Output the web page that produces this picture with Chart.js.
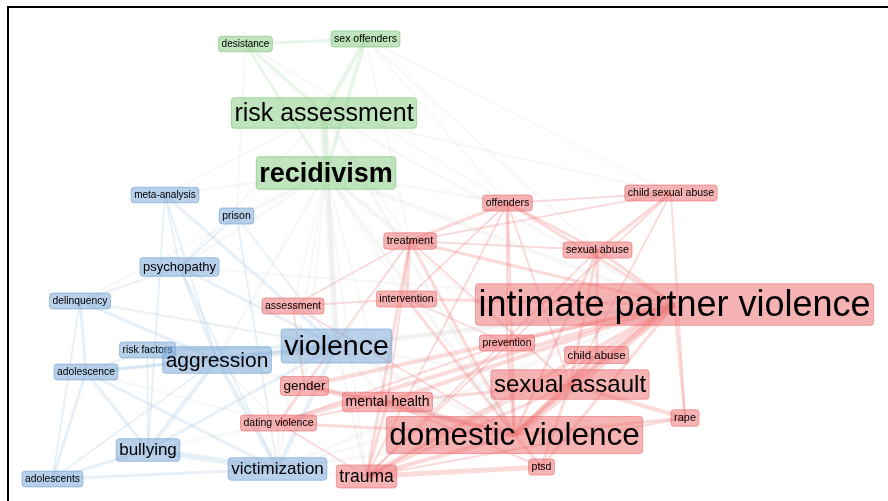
<!DOCTYPE html>
<html>
<head>
<meta charset="utf-8">
<script src="https://cdn.jsdelivr.net/npm/chart.js@4.4.1/dist/chart.umd.min.js"></script>
<style>
  html,body{margin:0;padding:0;background:#fff;overflow:hidden;}
  #wrap{position:relative;width:888px;height:501px;}
  #frame{position:absolute;left:7px;top:6px;width:900px;height:600px;border-top:2px solid #000;border-left:2px solid #000;box-sizing:border-box;pointer-events:none;z-index:2;}
  canvas{position:absolute;left:0;top:0;}
</style>
</head>
<body>
<div id="wrap">
  <canvas id="c" width="888" height="501"></canvas>
  <div id="frame"></div>
</div>
<script>
// ---- node data (map coordinates, label weight, cluster) ----
const nodeLabels = [
  'desistance','sex offenders','risk assessment','recidivism',
  'meta-analysis','prison','psychopathy','delinquency','risk factors','aggression',
  'adolescence','bullying','adolescents','victimization','violence',
  'offenders','child sexual abuse','treatment','sexual abuse','assessment','intervention',
  'intimate partner violence','prevention','child abuse','sexual assault','gender',
  'mental health','dating violence','domestic violence','rape','ptsd','trauma'
];
const nodeX = [
  245.5,365.5,324,326,
  165,236.5,179.5,80,147.5,217,
  86,148,52.5,277.5,336.5,
  507.5,671,410,597.5,293,406.5,
  674.5,507,596.5,570,304.5,
  387.5,278.5,514.5,685,541.5,366.5
];
const nodeY = [
  44,39,113,173,
  195,216,267,301,350,360,
  372,450,479,469,346,
  203,193,241,250,306,299,
  304.5,343,355,384.5,386,
  402,423,435,418,467,476.5
];
const nodeWeight = [
  10,10.5,25,27,
  10,10.5,13,10.3,10.3,21,
  10.3,17,10.3,17,28.5,
  10.5,10.5,11,10.7,10.5,10.5,
  36,10.5,11.5,24,13.5,
  14,10.5,31.5,11,10.5,17.5
];
const nodeCluster = [
  'g','g','g','g',
  'b','b','b','b','b','b',
  'b','b','b','b','b',
  'r','r','r','r','r','r',
  'r','r','r','r','r',
  'r','r','r','r','r','r'
];
// ---- links: [from, to, strength] ----
const links = [
  ['desistance','sex offenders',2],['desistance','risk assessment',2],['desistance','recidivism',2],
  ['sex offenders','risk assessment',3],['sex offenders','recidivism',3],['risk assessment','recidivism',6],
  ['recidivism','violence',5],['risk assessment','violence',3],['recidivism','psychopathy',2],
  ['recidivism','aggression',2],['recidivism','prison',2],['recidivism','meta-analysis',2],
  ['risk assessment','meta-analysis',1],['risk assessment','psychopathy',1],['recidivism','offenders',2],
  ['recidivism','treatment',2],['recidivism','intimate partner violence',3],['recidivism','domestic violence',3],
  ['recidivism','sexual assault',1],['risk assessment','intimate partner violence',2],['risk assessment','domestic violence',2],
  ['sex offenders','child sexual abuse',1],['sex offenders','sexual abuse',1],['sex offenders','offenders',1],
  ['sex offenders','treatment',1],['desistance','offenders',1],['desistance','prison',1],
  ['recidivism','delinquency',1],['recidivism','victimization',1],['recidivism','trauma',1],
  ['recidivism','mental health',1],['risk assessment','treatment',1],['risk assessment','child sexual abuse',1],
  ['recidivism','assessment',1],['recidivism','intervention',1],['recidivism','gender',1],
  ['aggression','violence',5],['aggression','bullying',3],['aggression','victimization',3],
  ['aggression','psychopathy',2],['aggression','adolescence',2],['aggression','risk factors',2],
  ['aggression','delinquency',2],['aggression','adolescents',1],['bullying','victimization',5],
  ['bullying','adolescents',2],['bullying','adolescence',2],['victimization','adolescents',2],
  ['victimization','violence',3],['victimization','adolescence',2],['delinquency','adolescence',2],
  ['delinquency','adolescents',1],['delinquency','psychopathy',1],['psychopathy','violence',2],
  ['psychopathy','meta-analysis',1],['meta-analysis','violence',2],['meta-analysis','aggression',1],
  ['prison','violence',1],['prison','victimization',1],['risk factors','violence',2],
  ['risk factors','adolescence',1],['violence','adolescence',2],['violence','bullying',2],
  ['adolescence','adolescents',2],['prison','psychopathy',1],['meta-analysis','bullying',1],
  ['psychopathy','victimization',1],['delinquency','violence',1],['risk factors','bullying',1],
  ['violence','intimate partner violence',4],['violence','domestic violence',4],['violence','sexual assault',2],
  ['violence','gender',2],['violence','treatment',1],['violence','trauma',2],['violence','mental health',2],
  ['aggression','gender',1],['aggression','dating violence',1],['victimization','dating violence',2],
  ['victimization','trauma',2],['victimization','domestic violence',2],['victimization','intimate partner violence',2],
  ['bullying','dating violence',1],['aggression','intimate partner violence',2],['aggression','domestic violence',1],
  ['psychopathy','intimate partner violence',1],['victimization','sexual assault',1],['adolescence','dating violence',1],
  ['intimate partner violence','domestic violence',6],['intimate partner violence','sexual assault',4],
  ['intimate partner violence','child abuse',3],['intimate partner violence','sexual abuse',2],
  ['intimate partner violence','treatment',2],['intimate partner violence','offenders',2],
  ['intimate partner violence','prevention',2],['intimate partner violence','rape',2],
  ['intimate partner violence','mental health',3],['intimate partner violence','trauma',3],
  ['intimate partner violence','gender',3],['intimate partner violence','dating violence',3],
  ['intimate partner violence','intervention',2],['intimate partner violence','ptsd',2],
  ['domestic violence','sexual assault',4],['domestic violence','trauma',3],['domestic violence','mental health',3],
  ['domestic violence','gender',3],['domestic violence','treatment',2],['domestic violence','intervention',2],
  ['domestic violence','offenders',2],['domestic violence','ptsd',2],['domestic violence','child abuse',3],
  ['domestic violence','sexual abuse',2],['domestic violence','rape',2],['domestic violence','prevention',2],
  ['domestic violence','assessment',1],['domestic violence','dating violence',2],
  ['sexual assault','rape',3],['sexual assault','trauma',2],['sexual assault','ptsd',2],
  ['sexual assault','child abuse',3],['sexual assault','sexual abuse',2],['sexual assault','child sexual abuse',1],
  ['sexual assault','mental health',2],['sexual assault','treatment',1],['sexual assault','offenders',1],
  ['child abuse','sexual abuse',2],['child sexual abuse','sexual abuse',2],['child sexual abuse','offenders',1],
  ['child sexual abuse','trauma',1],['child sexual abuse','treatment',1],['child sexual abuse','rape',1],
  ['sexual abuse','offenders',2],['sexual abuse','treatment',1],['sexual abuse','trauma',1],
  ['trauma','ptsd',4],['trauma','mental health',2],['trauma','dating violence',1],['trauma','treatment',2],
  ['trauma','offenders',1],['gender','dating violence',2],['gender','mental health',2],
  ['dating violence','mental health',1],['treatment','offenders',2],['treatment','intervention',2],
  ['treatment','assessment',1],['offenders','intervention',1],['ptsd','mental health',1],
  ['rape','trauma',1],['treatment','mental health',1],['intervention','prevention',1],
  ['offenders','prevention',1],['assessment','intervention',1],['treatment','gender',1],
  ['child abuse','trauma',1],['prevention','dating violence',1],['assessment','gender',1]
];

const fills = {g:'rgba(140,205,135,0.55)', b:'rgba(125,170,215,0.55)', r:'rgba(238,110,112,0.52)'};
const strokes = {g:'rgba(120,195,115,0.6)', b:'rgba(110,160,210,0.6)', r:'rgba(232,100,102,0.55)'};
const linkCols = {g:'rgba(150,210,150,0.22)', b:'rgba(150,185,220,0.22)', r:'rgba(240,100,100,0.24)', x:'rgba(190,190,190,0.13)'};

const idx = n => nodeLabels.indexOf(n);
const datasets = links.map(([a,b,w]) => {
  const i = idx(a), j = idx(b);
  const ca = nodeCluster[i], cb = nodeCluster[j];
  return {
    type:'line',
    data:[{x:nodeX[i],y:nodeY[i]},{x:nodeX[j],y:nodeY[j]}],
    borderColor: ca===cb ? linkCols[ca] : linkCols.x,
    borderWidth: 0.8 + w*1.1,
    pointRadius:0, fill:false, showLine:true, tension:0
  };
});
datasets.push({
  type:'scatter',
  data: nodeLabels.map((l,i)=>({x:nodeX[i],y:nodeY[i]})),
  pointRadius:0, pointHoverRadius:0
});

const labelPlugin = {
  id:'labels',
  afterDatasetsDraw(chart){
    const ctx = chart.ctx, xs = chart.scales.x, ys = chart.scales.y;
    const order = nodeLabels.map((_,i)=>i).sort((a,b)=>nodeWeight[a]-nodeWeight[b]);
    ctx.save();
    order.forEach(i=>{
      const px = xs.getPixelForValue(nodeX[i]);
      const py = ys.getPixelForValue(nodeY[i]);
      const fs = nodeWeight[i];
      const bold = nodeLabels[i]==='recidivism';
      ctx.font = (bold?'bold ':'') + fs + 'px "Liberation Sans", Arial, sans-serif';
      const tw = ctx.measureText(nodeLabels[i]).width;
      const w = tw + 6, h = fs + 5.5, r = 3;
      const x0 = px - w/2, y0 = py - h/2;
      ctx.beginPath();
      ctx.moveTo(x0+r,y0);
      ctx.lineTo(x0+w-r,y0); ctx.quadraticCurveTo(x0+w,y0,x0+w,y0+r);
      ctx.lineTo(x0+w,y0+h-r); ctx.quadraticCurveTo(x0+w,y0+h,x0+w-r,y0+h);
      ctx.lineTo(x0+r,y0+h); ctx.quadraticCurveTo(x0,y0+h,x0,y0+h-r);
      ctx.lineTo(x0,y0+r); ctx.quadraticCurveTo(x0,y0,x0+r,y0);
      ctx.closePath();
      ctx.fillStyle = fills[nodeCluster[i]];
      ctx.fill();
      ctx.lineWidth = 1;
      ctx.strokeStyle = strokes[nodeCluster[i]];
      ctx.stroke();
      ctx.fillStyle = '#000';
      ctx.textAlign = 'center';
      ctx.textBaseline = 'middle';
      ctx.fillText(nodeLabels[i], px, py + fs*0.04);
    });
    ctx.restore();
  }
};

new Chart(document.getElementById('c'), {
  type:'scatter',
  data:{datasets},
  options:{
    responsive:false, animation:false,
    layout:{padding:0},
    events:[],
    scales:{
      x:{type:'linear',min:0,max:888,display:false},
      y:{type:'linear',min:0,max:501,reverse:true,display:false}
    },
    plugins:{legend:{display:false},tooltip:{enabled:false}}
  },
  plugins:[labelPlugin]
});
</script>
</body>
</html>
